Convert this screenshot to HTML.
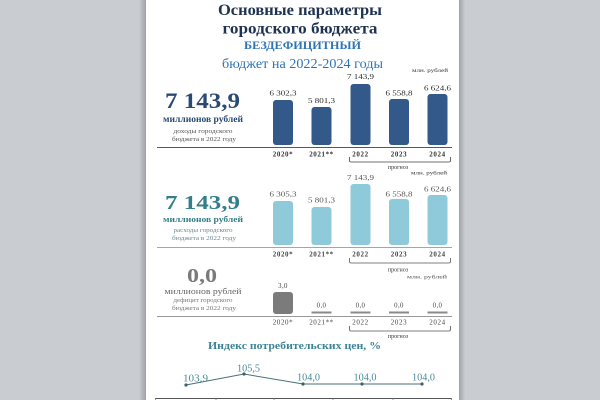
<!DOCTYPE html>
<html><head><meta charset="utf-8"><style>
html,body{margin:0;padding:0;background:#c9ccd1;}
svg{display:block;}
text{font-family:"Liberation Serif","DejaVu Serif",serif;}
</style></head><body>
<svg width="600" height="400" viewBox="0 0 600 400" xmlns="http://www.w3.org/2000/svg">
<defs>
<linearGradient id="ls" x1="0" x2="1" y1="0" y2="0"><stop offset="0" stop-color="#c9ccd1"/><stop offset="1" stop-color="#9ea1a6"/></linearGradient>
<linearGradient id="rs" x1="0" x2="1" y1="0" y2="0"><stop offset="0" stop-color="#9ea1a6"/><stop offset="1" stop-color="#c9ccd1"/></linearGradient>
</defs>
<rect x="0" y="0" width="600" height="400" fill="#c9ccd1"/>
<rect x="139" y="0" width="7" height="400" fill="url(#ls)"/>
<rect x="459" y="0" width="6" height="400" fill="url(#rs)"/>
<rect x="146" y="0" width="313" height="400" fill="#ffffff"/>

<!-- Title -->
<text x="300" y="15" text-anchor="middle" font-size="16" font-weight="bold" fill="#1f3350" textLength="164" lengthAdjust="spacingAndGlyphs">Основные параметры</text>
<text x="300" y="33.5" text-anchor="middle" font-size="16" font-weight="bold" fill="#1f3350" textLength="155" lengthAdjust="spacingAndGlyphs">городского бюджета</text>
<text x="302.5" y="49" text-anchor="middle" font-size="12" font-weight="bold" fill="#2e74b5" textLength="117" lengthAdjust="spacingAndGlyphs">БЕЗДЕФИЦИТНЫЙ</text>
<text x="302.5" y="68" text-anchor="middle" font-size="14" fill="#2e74b5" textLength="161" lengthAdjust="spacingAndGlyphs">бюджет на 2022-2024 годы</text>

<!-- Chart 1 -->
<text x="448" y="72" text-anchor="end" font-size="5.5" fill="#333" textLength="36" lengthAdjust="spacingAndGlyphs">млн. рублей</text>
<text x="202.5" y="108" text-anchor="middle" font-size="22" font-weight="bold" fill="#2b4a73" textLength="75" lengthAdjust="spacingAndGlyphs">7 143,9</text>
<text x="203" y="122" text-anchor="middle" font-size="9" font-weight="bold" fill="#2b4a73" textLength="80" lengthAdjust="spacingAndGlyphs">миллионов рублей</text>
<text x="203" y="133" text-anchor="middle" font-size="6.5" fill="#555" textLength="59" lengthAdjust="spacingAndGlyphs">доходы городского</text>
<text x="204" y="141" text-anchor="middle" font-size="6.5" fill="#555" textLength="64" lengthAdjust="spacingAndGlyphs">бюджета в 2022 году</text>
<line x1="157" y1="147.5" x2="452" y2="147.5" stroke="#4a5a70" stroke-width="1"/>
<g fill="#33598a">
<rect x="273" y="100" width="20" height="45" rx="3"/>
<rect x="311.5" y="107" width="20" height="38" rx="3"/>
<rect x="350.5" y="84" width="20" height="61" rx="3"/>
<rect x="389" y="99" width="20" height="46" rx="3"/>
<rect x="427.5" y="94" width="20" height="51" rx="3"/>
</g>
<g font-size="6.8" fill="#2a2a2a" text-anchor="middle">
<text x="283" y="95.5" textLength="27" lengthAdjust="spacingAndGlyphs">6 302,3</text>
<text x="321.5" y="103" textLength="27" lengthAdjust="spacingAndGlyphs">5 801,3</text>
<text x="360.5" y="79" textLength="27" lengthAdjust="spacingAndGlyphs">7 143,9</text>
<text x="399" y="95.5" textLength="27" lengthAdjust="spacingAndGlyphs">6 558,8</text>
<text x="437.5" y="90.5" textLength="27" lengthAdjust="spacingAndGlyphs">6 624,6</text>
</g>
<g font-size="7" font-weight="bold" fill="#333" text-anchor="middle" letter-spacing="0.6">
<text x="283" y="156.5">2020*</text>
<text x="321.5" y="156.5">2021**</text>
<text x="360.5" y="156.5">2022</text>
<text x="399" y="156.5">2023</text>
<text x="437.5" y="156.5">2024</text>
</g>
<path d="M349.5,157 V160.5 Q349.5,162 351,162 H449 Q450.5,162 450.5,160.5 V157" fill="none" stroke="#444" stroke-width="0.8"/>
<text x="398" y="169" text-anchor="middle" font-size="6" fill="#333">прогноз</text>

<!-- Chart 2 -->
<text x="447" y="174.5" text-anchor="end" font-size="5.5" fill="#333" textLength="36" lengthAdjust="spacingAndGlyphs">млн. рублей</text>
<text x="202.5" y="209" text-anchor="middle" font-size="20" font-weight="bold" fill="#347e8b" textLength="75" lengthAdjust="spacingAndGlyphs">7 143,9</text>
<text x="203" y="222" text-anchor="middle" font-size="8.5" font-weight="bold" fill="#347e8b" textLength="80" lengthAdjust="spacingAndGlyphs">миллионов рублей</text>
<text x="203" y="232" text-anchor="middle" font-size="6.5" fill="#6b8890" textLength="59" lengthAdjust="spacingAndGlyphs">расходы городского</text>
<text x="204" y="240" text-anchor="middle" font-size="6.5" fill="#6b8890" textLength="64" lengthAdjust="spacingAndGlyphs">бюджета в 2022 году</text>
<line x1="157" y1="247.5" x2="452" y2="247.5" stroke="#9aa" stroke-width="1"/>
<g fill="#8fcadb">
<rect x="273" y="201" width="20" height="44" rx="3"/>
<rect x="311.5" y="207" width="20" height="38" rx="3"/>
<rect x="350.5" y="184" width="20" height="61" rx="3"/>
<rect x="389" y="199" width="20" height="46" rx="3"/>
<rect x="427.5" y="195" width="20" height="50" rx="3"/>
</g>
<g font-size="6.8" fill="#555" text-anchor="middle">
<text x="283" y="196.5" textLength="27" lengthAdjust="spacingAndGlyphs">6 305,3</text>
<text x="321.5" y="202.5" textLength="27" lengthAdjust="spacingAndGlyphs">5 801,3</text>
<text x="360.5" y="180" textLength="27" lengthAdjust="spacingAndGlyphs">7 143,9</text>
<text x="399" y="196.5" textLength="27" lengthAdjust="spacingAndGlyphs">6 558,8</text>
<text x="437.5" y="191.5" textLength="27" lengthAdjust="spacingAndGlyphs">6 624,6</text>
</g>
<g font-size="7" font-weight="bold" fill="#444" text-anchor="middle" letter-spacing="0.6">
<text x="283" y="256.5">2020*</text>
<text x="321.5" y="256.5">2021**</text>
<text x="360.5" y="256.5">2022</text>
<text x="399" y="256.5">2023</text>
<text x="437.5" y="256.5">2024</text>
</g>
<path d="M349.5,258 V261.5 Q349.5,263 351,263 H449 Q450.5,263 450.5,261.5 V258" fill="none" stroke="#555" stroke-width="0.8"/>
<text x="398" y="271.5" text-anchor="middle" font-size="6" fill="#333">прогноз</text>

<!-- Chart 3 -->
<text x="447" y="278.5" text-anchor="end" font-size="5.5" fill="#555" textLength="40" lengthAdjust="spacingAndGlyphs">млн. рублей</text>
<text x="202" y="282" text-anchor="middle" font-size="20" font-weight="bold" fill="#7a7a7a" textLength="30" lengthAdjust="spacingAndGlyphs">0,0</text>
<text x="203" y="294" text-anchor="middle" font-size="8.5" fill="#666" textLength="77" lengthAdjust="spacingAndGlyphs">миллионов рублей</text>
<text x="203" y="302" text-anchor="middle" font-size="6.5" fill="#777" textLength="59" lengthAdjust="spacingAndGlyphs">дефицит городского</text>
<text x="204" y="310" text-anchor="middle" font-size="6.5" fill="#777" textLength="64" lengthAdjust="spacingAndGlyphs">бюджета в 2022 году</text>
<line x1="157" y1="316.5" x2="452" y2="316.5" stroke="#999" stroke-width="1"/>
<rect x="273" y="292" width="20" height="22" rx="3" fill="#7b7b7b"/>
<g fill="#8a8a8a">
<rect x="311.5" y="311.5" width="20" height="2"/>
<rect x="350.5" y="311.5" width="20" height="2"/>
<rect x="389" y="311.5" width="20" height="2"/>
<rect x="427.5" y="311.5" width="20" height="2"/>
</g>
<g font-size="6.8" fill="#444" text-anchor="middle" letter-spacing="0.4">
<text x="283" y="288">3,0</text>
<text x="321.5" y="307.5">0,0</text>
<text x="360.5" y="307.5">0,0</text>
<text x="399" y="307.5">0,0</text>
<text x="437.5" y="307.5">0,0</text>
</g>
<g font-size="7" fill="#444" text-anchor="middle" letter-spacing="0.6">
<text x="283" y="324.5">2020*</text>
<text x="321.5" y="324.5">2021**</text>
<text x="360.5" y="324.5">2022</text>
<text x="399" y="324.5">2023</text>
<text x="437.5" y="324.5">2024</text>
</g>
<path d="M349.5,326 V329.5 Q349.5,331 351,331 H449 Q450.5,331 450.5,329.5 V326" fill="none" stroke="#555" stroke-width="0.8"/>
<text x="398" y="338" text-anchor="middle" font-size="6" fill="#333">прогноз</text>

<!-- Index -->
<text x="294.5" y="349" text-anchor="middle" font-size="11" font-weight="bold" fill="#3d8596" textLength="173" lengthAdjust="spacingAndGlyphs">Индекс потребительских цен, %</text>
<polyline points="186,385 244,374 303,384 362,384 422,384" fill="none" stroke="#4a6f7a" stroke-width="1"/>
<g fill="#3e5f6a">
<circle cx="186" cy="385" r="1.6"/>
<circle cx="244" cy="374" r="1.6"/>
<circle cx="303" cy="384" r="1.6"/>
<circle cx="362" cy="384" r="1.6"/>
<circle cx="422" cy="384" r="1.6"/>
</g>
<g font-size="10" fill="#4a8a9a" text-anchor="middle">
<text x="195.5" y="381.5" textLength="25" lengthAdjust="spacingAndGlyphs">103,9</text>
<text x="248.5" y="371.5" textLength="23" lengthAdjust="spacingAndGlyphs">105,5</text>
<text x="308.5" y="380.5" textLength="23" lengthAdjust="spacingAndGlyphs">104,0</text>
<text x="365" y="380.5" textLength="23" lengthAdjust="spacingAndGlyphs">104,0</text>
<text x="423.5" y="380.5" textLength="23" lengthAdjust="spacingAndGlyphs">104,0</text>
</g>

<!-- bottom table -->
<line x1="155" y1="398.5" x2="452" y2="398.5" stroke="#555" stroke-width="1"/>
<g stroke="#777" stroke-width="0.8">
<line x1="155.5" y1="398" x2="155.5" y2="400"/>
<line x1="216" y1="398" x2="216" y2="400"/>
<line x1="274" y1="398" x2="274" y2="400"/>
<line x1="333" y1="398" x2="333" y2="400"/>
<line x1="393" y1="398" x2="393" y2="400"/>
<line x1="451.5" y1="398" x2="451.5" y2="400"/>
</g>
</svg>
</body></html>
